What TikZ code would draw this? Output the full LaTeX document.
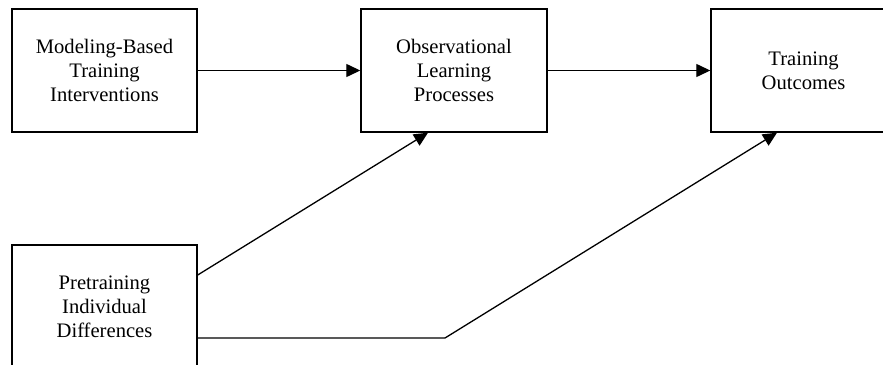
\documentclass[tikz,border=0pt]{standalone}
\usepackage{fontspec}
\setmainfont{Liberation Serif}
\usetikzlibrary{arrows.meta}
\begin{document}
\begin{tikzpicture}[x=1pt,y=-1pt,
  box/.style={draw, line width=1.4pt, minimum width=185pt, minimum height=123pt,
    inner sep=0pt, align=center, font=\fontsize{20.6}{24}\selectfont},
  arr/.style={line width=1.3pt, -{Triangle[length=14pt,width=13pt]}}]
\useasboundingbox (0,0) rectangle (883,364);
\clip (0,0) rectangle (883,364);
\fill[white] (0,0) rectangle (883,364);
\node[box] (b1) at (104.5,70.5) {Modeling-Based\\Training\\Interventions};
\node[box, minimum width=186pt] (b2) at (454,70.5) {Observational\\Learning\\Processes};
\node[box] (b3) at (803.5,70.5) {Training\\Outcomes};
\node[box] (b4) at (104.5,306.5) {Pretraining\\Individual\\Differences};
\coordinate (bend) at (445,338);
\draw[arr] (b1) -- (b2);
\draw[arr] (b2) -- (b3);
\draw[arr] ([yshift=31.5pt]b4.east) -- ([xshift=-26pt]b2.south);
\draw[arr] ([yshift=-31.5pt]b4.east) -- (bend) -- ([xshift=-26.5pt]b3.south);
\end{tikzpicture}
\end{document}
